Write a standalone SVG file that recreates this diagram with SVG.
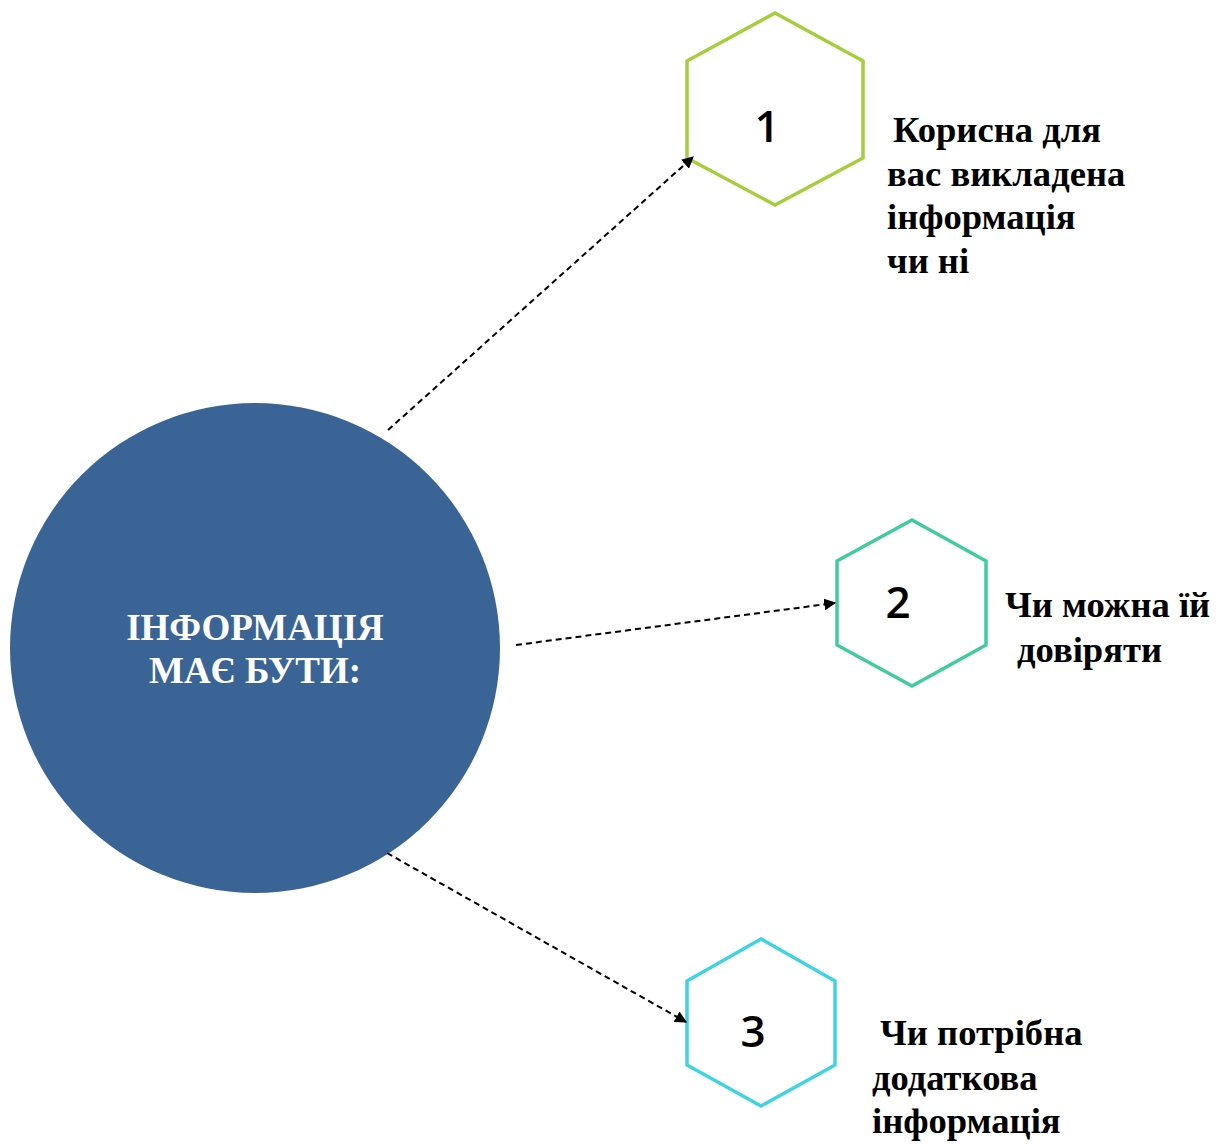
<svg xmlns="http://www.w3.org/2000/svg" width="1223" height="1144" viewBox="0 0 1223 1144">
<style>
.hex{fill:#fff;stroke-width:3.5}
.num{font-family:"Open Sans","Noto Sans",sans-serif;font-weight:600;font-size:44px;fill:#000;text-anchor:middle}
.lbl{font-family:"Liberation Serif",serif;font-weight:bold;font-size:36.6px;fill:#000}
.ctr{font-family:"Liberation Serif",serif;font-weight:bold;font-size:37px;fill:#fff;text-anchor:middle}
.conn{stroke:#000;stroke-width:2;stroke-dasharray:6 4;fill:none;marker-end:url(#arr)}
</style>
<defs>
<marker id="arr" viewBox="0 0 10 10" refX="9" refY="5" markerWidth="6" markerHeight="6" orient="auto" markerUnits="strokeWidth">
<path d="M0,0 L10,5 L0,10 z" fill="#000"/>
</marker>
</defs>
<rect width="1223" height="1144" fill="#fff"/>
<g id="center">
<circle cx="255" cy="648" r="245" fill="#3B6496"/>
<text class="ctr" x="255" y="640">ІНФОРМАЦІЯ</text>
<text class="ctr" x="255" y="683">МАЄ БУТИ:</text>
</g>
<g id="node1">
<polygon class="hex" stroke="#A4CF3A" points="775,13 863,61 863,158 775,205 687,158 687,61"/>
<text class="num" x="767" y="142">1</text>
<text class="lbl" x="893" y="142">Корисна для</text>
<text class="lbl" x="887" y="186">вас викладена</text>
<text class="lbl" x="887" y="229">інформація</text>
<text class="lbl" x="887" y="273">чи ні</text>
</g>
<g id="node2">
<polygon class="hex" stroke="#40CC9C" points="912,520 986,561 986,645 912,686 837,645 837,561"/>
<text class="num" x="898" y="618">2</text>
<text class="lbl" x="1005" y="617">Чи можна їй</text>
<text class="lbl" x="1017" y="662">довіряти</text>
</g>
<g id="node3">
<polygon class="hex" stroke="#3FD3E3" points="761,939 835,981 835,1065 761,1106 687,1065 687,981"/>
<text class="num" x="753" y="1047">3</text>
<text class="lbl" x="880" y="1045">Чи потрібна</text>
<text class="lbl" x="872" y="1090">додаткова</text>
<text class="lbl" x="872" y="1133">інформація</text>
</g>
<g id="connectors">
<line class="conn" x1="388" y1="430" x2="693" y2="157"/>
<line class="conn" x1="516" y1="645" x2="835" y2="603"/>
<line class="conn" x1="387" y1="853" x2="686" y2="1022"/>
</g>
</svg>
